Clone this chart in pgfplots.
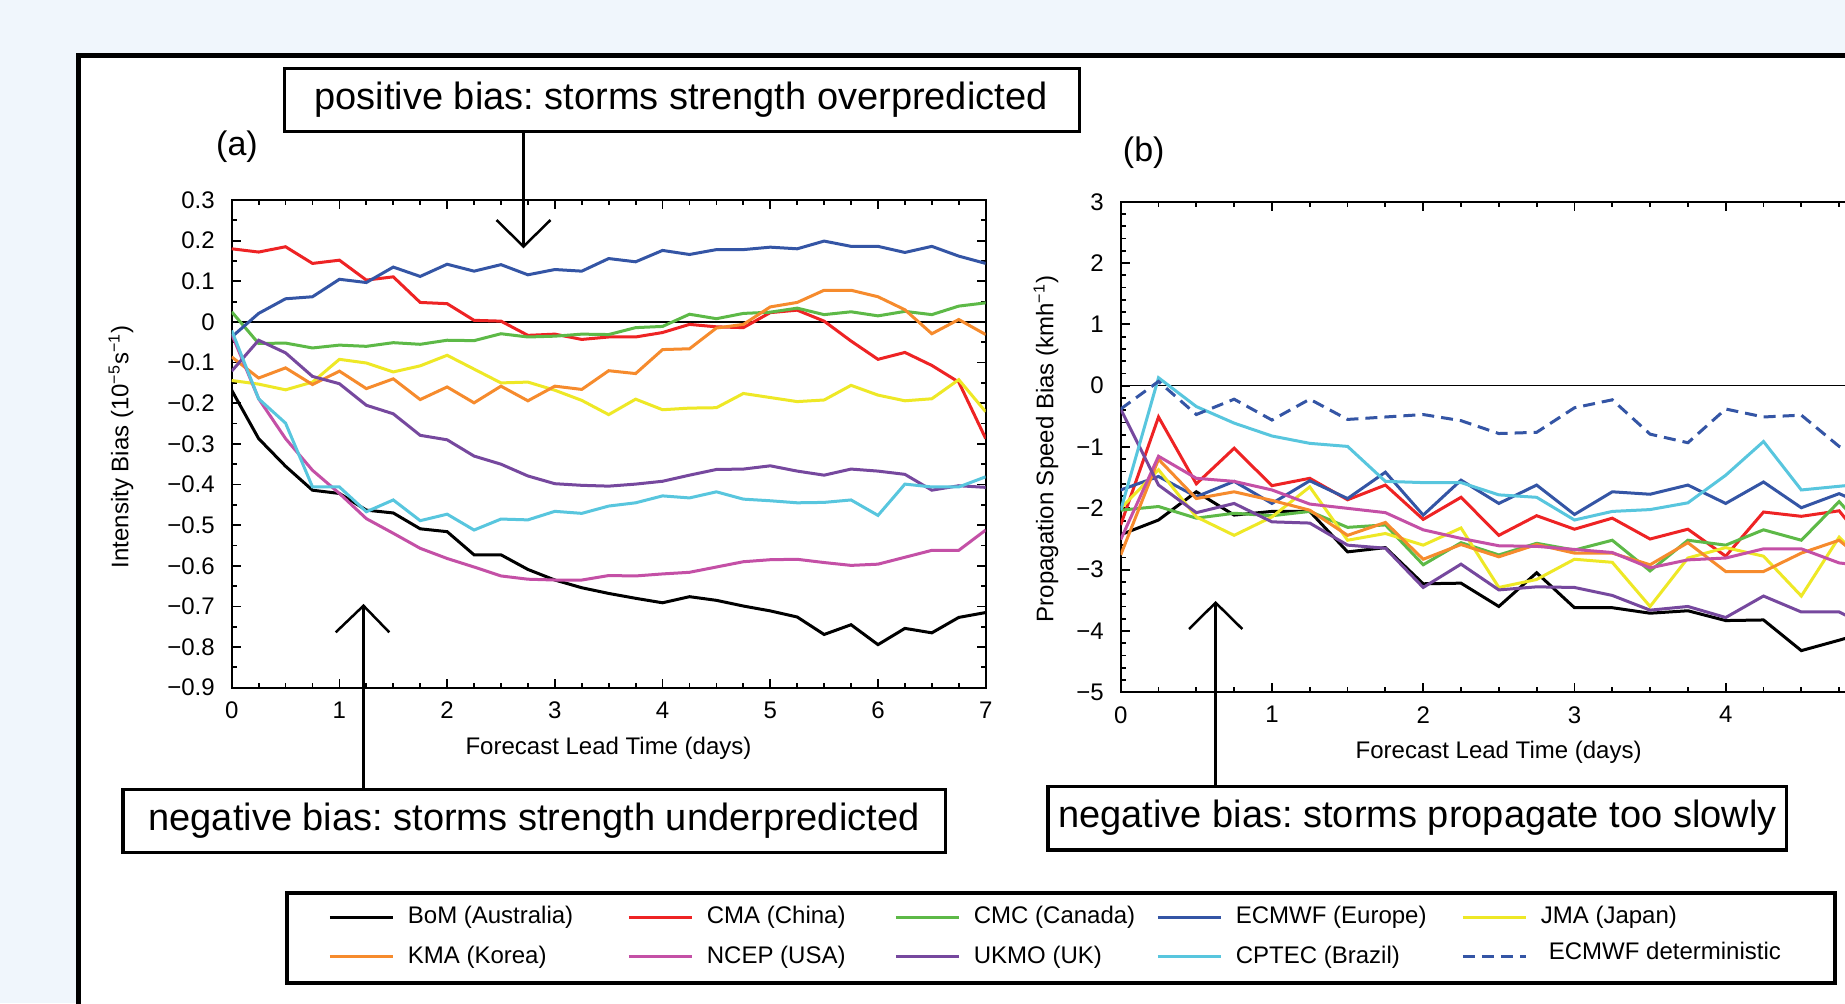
\documentclass[border=0pt]{standalone}
\usepackage{fontspec}
\setmainfont{Liberation Sans}
\usepackage{pgfplots}
\usepackage{pgfplotstable}
\pgfplotsset{compat=1.18}
\frenchspacing

\definecolor{bgblue}{RGB}{240,246,252}
\definecolor{cmared}{RGB}{238,35,36}
\definecolor{cmcgreen}{RGB}{93,185,71}
\definecolor{ecmblue}{RGB}{52,85,165}
\definecolor{jmayellow}{RGB}{238,232,38}
\definecolor{kmaorange}{RGB}{246,139,45}
\definecolor{ncepmag}{RGB}{196,80,166}
\definecolor{ukmopurple}{RGB}{118,72,158}
\definecolor{cpteccyan}{RGB}{88,198,222}

% (a) intensity bias, 10^-5 s^-1
\pgfplotstableread{
d     bom    cma    cmc    ecm    jma    kma    ncep   ukmo   cptec
0     -0.168 0.180  0.025  -0.037 -0.144 -0.086 -0.030 -0.121 -0.021
0.25  -0.287 0.172  -0.053 0.021  -0.153 -0.138 -0.189 -0.045 -0.189
0.5   -0.355 0.185  -0.052 0.057  -0.167 -0.113 -0.287 -0.076 -0.249
0.75  -0.414 0.144  -0.064 0.062  -0.148 -0.154 -0.365 -0.134 -0.406
1     -0.422 0.152  -0.057 0.105  -0.092 -0.121 -0.422 -0.152 -0.406
1.25  -0.463 0.103  -0.060 0.097  -0.101 -0.164 -0.484 -0.205 -0.467
1.5   -0.470 0.111  -0.051 0.135  -0.123 -0.140 -0.520 -0.226 -0.438
1.75  -0.509 0.048  -0.055 0.112  -0.108 -0.191 -0.557 -0.279 -0.489
2     -0.516 0.045  -0.045 0.142  -0.082 -0.160 -0.582 -0.290 -0.473
2.25  -0.573 0.004  -0.046 0.125  -0.116 -0.199 -0.603 -0.330 -0.512
2.5   -0.573 0.002  -0.029 0.141  -0.150 -0.158 -0.625 -0.350 -0.485
2.75  -0.609 -0.033 -0.037 0.116  -0.148 -0.194 -0.633 -0.379 -0.487
3     -0.635 -0.030 -0.035 0.129  -0.168 -0.158 -0.635 -0.398 -0.466
3.25  -0.654 -0.043 -0.030 0.125  -0.193 -0.166 -0.635 -0.402 -0.471
3.5   -0.668 -0.037 -0.031 0.156  -0.228 -0.120 -0.624 -0.404 -0.453
3.75  -0.680 -0.037 -0.014 0.148  -0.190 -0.127 -0.625 -0.399 -0.445
4     -0.691 -0.026 -0.011 0.176  -0.216 -0.068 -0.620 -0.392 -0.428
4.25  -0.676 -0.006 0.019  0.166  -0.212 -0.066 -0.616 -0.377 -0.433
4.5   -0.685 -0.012 0.008  0.178  -0.211 -0.015 -0.603 -0.363 -0.418
4.75  -0.699 -0.014 0.021  0.178  -0.176 -0.006 -0.590 -0.362 -0.436
5     -0.711 0.023  0.024  0.184  -0.186 0.037  -0.585 -0.354 -0.440
5.25  -0.726 0.029  0.034  0.180  -0.196 0.048  -0.584 -0.367 -0.445
5.5   -0.769 0.002  0.018  0.199  -0.192 0.078  -0.592 -0.377 -0.444
5.75  -0.745 -0.047 0.025  0.186  -0.156 0.078  -0.599 -0.362 -0.438
6     -0.794 -0.092 0.015  0.186  -0.180 0.062  -0.596 -0.367 -0.476
6.25  -0.754 -0.075 0.026  0.171  -0.194 0.030  -0.579 -0.375 -0.399
6.5   -0.765 -0.107 0.018  0.186  -0.189 -0.029 -0.562 -0.414 -0.406
6.75  -0.727 -0.148 0.039  0.162  -0.142 0.006  -0.562 -0.403 -0.406
7     -0.715 -0.287 0.047  0.144  -0.221 -0.031 -0.512 -0.407 -0.381
}\dataA

% (b) propagation speed bias, km/h
\pgfplotstableread{
d     bom    cma    cmc    ecm    jma    kma    ncep   ukmo   cptec  det
0     -2.43  -2.27  -2.03  -1.70  -2.00  -2.76  -2.51  -0.38  -2.03  -0.38
0.25  -2.19  -0.51  -1.97  -1.48  -1.37  -1.20  -1.15  -1.62  0.13   0.07
0.5   -1.73  -1.60  -2.16  -1.81  -2.14  -1.84  -1.51  -2.07  -0.34  -0.47
0.75  -2.11  -1.02  -2.08  -1.56  -2.44  -1.73  -1.56  -1.92  -0.61  -0.22
1     -2.05  -1.63  -2.12  -1.92  -2.14  -1.87  -1.70  -2.22  -0.82  -0.56
1.25  -2.05  -1.51  -2.05  -1.55  -1.65  -2.03  -1.93  -2.24  -0.94  -0.22
1.5   -2.71  -1.86  -2.31  -1.84  -2.52  -2.44  -2.00  -2.60  -0.99  -0.55
1.75  -2.64  -1.62  -2.27  -1.41  -2.41  -2.23  -2.07  -2.65  -1.56  -0.51
2     -3.23  -2.18  -2.92  -2.11  -2.60  -2.83  -2.35  -3.29  -1.58  -0.47
2.25  -3.22  -1.82  -2.56  -1.54  -2.32  -2.59  -2.49  -2.91  -1.58  -0.57
2.5   -3.60  -2.44  -2.76  -1.92  -3.29  -2.79  -2.61  -3.33  -1.78  -0.78
2.75  -3.05  -2.12  -2.57  -1.62  -3.16  -2.59  -2.62  -3.28  -1.82  -0.76
3     -3.62  -2.34  -2.68  -2.10  -2.83  -2.73  -2.67  -3.29  -2.19  -0.36
3.25  -3.62  -2.16  -2.52  -1.73  -2.88  -2.73  -2.72  -3.42  -2.05  -0.23
3.5   -3.71  -2.50  -3.02  -1.77  -3.60  -2.92  -2.97  -3.66  -2.02  -0.79
3.75  -3.67  -2.34  -2.52  -1.62  -2.81  -2.56  -2.84  -3.60  -1.91  -0.93
4     -3.83  -2.78  -2.60  -1.92  -2.64  -3.03  -2.81  -3.78  -1.46  -0.38
4.25  -3.82  -2.06  -2.35  -1.57  -2.78  -3.03  -2.66  -3.43  -0.91  -0.51
4.5   -4.32  -2.13  -2.52  -1.99  -3.43  -2.73  -2.66  -3.69  -1.70  -0.48
4.75  -4.15  -2.04  -1.89  -1.76  -2.47  -2.52  -2.89  -3.69  -1.64  -0.99
5     -3.97  -2.80  -2.57  -2.03  -3.09  -3.03  -2.96  -4.00  -1.58  -1.27
}\dataB

\pgfplotsset{
  biasax/.style={
    scale only axis, anchor=south west,
    axis line style={line width=1pt},
    tick align=inside,
    major tick length=4.5pt, minor tick length=2.5pt,
    every tick/.style={black, line width=0.9pt},
    tick label style={font=\fontsize{12}{14}\selectfont},
    yticklabel style={xshift=-5pt},
    xticklabel style={yshift=-3.5pt},
    every axis plot/.append style={line width=1.5pt},
  },
}

\begin{document}
\begin{tikzpicture}
\useasboundingbox (0,0) rectangle (922.5pt,-501.5pt);
\clip (0,0) rectangle (922.5pt,-501.5pt);

\begin{scope}[x=0.5pt,y=-0.5pt]
  \fill[bgblue] (0,0) rectangle (1845,1003);
  \fill[white] (78,55.5) rectangle (1950,1100);
  \draw[line width=2.5pt] (78,1100) -- (78,55.5) -- (1950,55.5);
  \draw[line width=2pt] (287,892.7) rectangle (1835,983.3);
\end{scope}

% panel (a)
\begin{axis}[biasax,
  at={(115.85pt,-343.85pt)}, width=377pt, height=243.85pt,
  xmin=0, xmax=7, ymin=-0.9, ymax=0.3,
  xtick={0,1,2,3,4,5,6,7}, xticklabels={0,1,2,3,4,5,6,7},
  minor x tick num=3,
  ytick={-0.9,-0.8,-0.7,-0.6,-0.5,-0.4,-0.3,-0.2,-0.1,0,0.1,0.2,0.3},
  yticklabels={−0.9,−0.8,−0.7,−0.6,−0.5,−0.4,−0.3,−0.2,−0.1,0,0.1,0.2,0.3},
  minor y tick num=1,
]
  \draw[black, line width=0.75pt] (axis cs:0,0) -- (axis cs:7,0);
  \addplot[black]      table[x=d,y=bom]   {\dataA};
  \addplot[cmared]     table[x=d,y=cma]   {\dataA};
  \addplot[cmcgreen]   table[x=d,y=cmc]   {\dataA};
  \addplot[ecmblue]    table[x=d,y=ecm]   {\dataA};
  \addplot[jmayellow]  table[x=d,y=jma]   {\dataA};
  \addplot[kmaorange]  table[x=d,y=kma]   {\dataA};
  \addplot[ncepmag]    table[x=d,y=ncep]  {\dataA};
  \addplot[ukmopurple] table[x=d,y=ukmo]  {\dataA};
  \addplot[cpteccyan]  table[x=d,y=cptec] {\dataA};
\end{axis}

% panel (b), its right part lies beyond the crop
\begin{axis}[biasax,
  at={(560.35pt,-346.15pt)}, width=378.125pt, height=245.3pt,
  xmin=0, xmax=5, ymin=-5, ymax=3,
  xtick={0,1,2,3,4,5}, xticklabels={0,1,2,3,4,{}},
  minor x tick num=3,
  ytick={-5,-4,-3,-2,-1,0,1,2,3},
  yticklabels={−5,−4,−3,−2,−1,0,1,2,3},
  minor y tick num=4,
  legend columns=5,
  legend image code/.code={\draw[#1] (0pt,0pt) -- (31.5pt,0pt);},
  legend style={draw=none, fill=none, inner sep=0pt,
    column sep=6.75pt, row sep=7.85pt,
    at={(axis description cs:-1.0482,-0.43335)}, anchor=north west,
    font=\fontsize{12}{14}\selectfont,
    nodes={inner sep=0pt, anchor=west, text height=9.2pt, text depth=2.6pt}},
]
  \draw[black, line width=0.75pt] (axis cs:0,0) -- (axis cs:5,0);
  \addplot[black]      table[x=d,y=bom]   {\dataB};
  \addplot[cmared]     table[x=d,y=cma]   {\dataB};
  \addplot[cmcgreen]   table[x=d,y=cmc]   {\dataB};
  \addplot[ecmblue]    table[x=d,y=ecm]   {\dataB};
  \addplot[jmayellow]  table[x=d,y=jma]   {\dataB};
  \addplot[kmaorange]  table[x=d,y=kma]   {\dataB};
  \addplot[ncepmag]    table[x=d,y=ncep]  {\dataB};
  \addplot[ukmopurple] table[x=d,y=ukmo]  {\dataB};
  \addplot[cpteccyan]  table[x=d,y=cptec] {\dataB};
  \addplot[ecmblue, dash pattern=on 6pt off 3.5pt] table[x=d,y=det] {\dataB};
  \legend{\makebox[103pt][l]{BoM (Australia)}, \makebox[87pt][l]{CMA (China)},
    \makebox[84.5pt][l]{CMC (Canada)}, \makebox[106pt][l]{ECMWF (Europe)},
    JMA (Japan), KMA (Korea), NCEP (USA), UKMO (UK), CPTEC (Brazil),
    \hspace*{4pt}\raisebox{1.7pt}{ECMWF deterministic}}
\end{axis}

\begin{scope}[x=0.5pt,y=-0.5pt]
  % axis titles
  \node[rotate=90, font=\fontsize{12}{14}\selectfont] at (121,447)
    {Intensity Bias (10\textsuperscript{−5}s\textsuperscript{−1})};
  \node[rotate=90, font=\fontsize{12}{14}\selectfont] at (1046,449)
    {Propagation Speed Bias (kmh\textsuperscript{−1})};
  \node[font=\fontsize{12}{14}\selectfont] at (608.5,748.5) {Forecast Lead Time (days)};
  \node[font=\fontsize{12}{14}\selectfont] at (1498.6,752) {Forecast Lead Time (days)};
  \node[font=\fontsize{17}{20}\selectfont] at (237,147) {(a)};
  \node[font=\fontsize{17}{20}\selectfont] at (1143.7,153) {(b)};

  % annotation boxes
  \draw[line width=1.5pt, fill=white] (284.5,68.3) rectangle (1079.5,131.5);
  \node[font=\fontsize{19}{22}\selectfont] at (681,99.5) {positive bias: storms strength overpredicted};
  \draw[line width=1.75pt, fill=white] (123,789.5) rectangle (945.5,852.5);
  \node[font=\fontsize{19}{22}\selectfont] at (534,821) {negative bias: storms strength underpredicted};
  \draw[line width=1.75pt, fill=white] (1048.2,786.3) rectangle (1786.5,849.8);
  \node[font=\fontsize{19}{22}\selectfont] at (1417.5,818) {negative bias: storms propagate too slowly};

  % arrows
  \draw[line width=1.25pt] (523.5,131.5) -- (523.5,246);
  \draw[line width=1.25pt] (496.5,220) -- (523.5,246.5) -- (550.5,220);
  \draw[line width=1.25pt] (363.5,789.5) -- (363.5,606);
  \draw[line width=1.25pt] (335.7,632.3) -- (363.5,605.7) -- (389.3,632.3);
  \draw[line width=1.25pt] (1215.6,786.3) -- (1215.6,603);
  \draw[line width=1.25pt] (1189,629) -- (1215.6,602.7) -- (1242.3,629);
\end{scope}
\end{tikzpicture}
\end{document}
